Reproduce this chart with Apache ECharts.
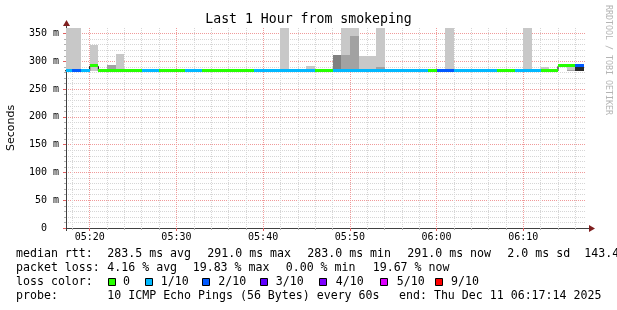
<!DOCTYPE html>
<html><head><meta charset="utf-8">
<script src="https://cdn.jsdelivr.net/npm/echarts@6/dist/echarts.min.js"></script>
<style>html,body{margin:0;padding:0;background:#fff}#c{width:617px;height:310px}</style>
</head><body><div id="c"></div>
<script>
// x values are minutes relative to 05:20:00
const xMin = -2.7333;   // 05:17:16
const xMax = 57.2333;   // 06:17:14
const yMax = 360;       // ms
const xMajor = [0, 10, 20, 30, 40, 50];
const xTickLabels = ['05:20', '05:30', '05:40', '05:50', '06:00', '06:10'];
const xMinor = [-2, 2, 4, 6, 8, 12, 14, 16, 18, 22, 24, 26, 28, 32, 34, 36, 38, 42, 44, 46, 48, 52, 54, 56];
const yMajor = [0, 50, 100, 150, 200, 250, 300, 350];
const yMinor = [10, 20, 30, 40, 60, 70, 80, 90, 110, 120, 130, 140, 160, 170, 180, 190, 210, 220, 230, 240,
                260, 270, 280, 290, 310, 320, 330, 340];

// one slot per minute: slot i covers slotStart[i] .. slotStart[i]+1
const slotStart = [-3, -2, -1, 0, 1, 2, 3, 4, 5, 6,
                   7, 8, 9, 10, 11, 12, 13, 14, 15, 16,
                   17, 18, 19, 20, 21, 22, 23, 24, 25, 26,
                   27, 28, 29, 30, 31, 32, 33, 34, 35, 36,
                   37, 38, 39, 40, 41, 42, 43, 44, 45, 46,
                   47, 48, 49, 50, 51, 52, 53, 54, 55, 56];
// median rtt (ms)
const median = [283, 283, 283, 291, 283, 283, 283, 283, 283, 283,
                283, 283, 283, 283, 283, 283, 283, 283, 283, 283,
                283, 283, 283, 283, 283, 283, 283, 283, 283, 283,
                283, 283, 283, 283, 283, 283, 283, 283, 283, 283,
                283, 283, 283, 283, 283, 283, 283, 283, 283, 283,
                283, 283, 283, 283, 283, 283, 283, 291, 291, 291];
// loss level index (0 = 0/10, 1 = 1/10, 2 = 2/10)
const loss = [1, 2, 1, 0, 0, 0, 0, 0, 0, 1,
              1, 0, 0, 0, 1, 1, 0, 0, 0, 0,
              0, 0, 1, 1, 1, 1, 1, 1, 1, 0,
              0, 1, 1, 1, 1, 1, 1, 1, 1, 1,
              1, 1, 0, 2, 2, 1, 1, 1, 1, 1,
              0, 0, 1, 1, 1, 0, 0, 0, 0, 2];
// smoke bands
const smokeSlot  = [0, 1, 1, 3, 5, 6, 9, 16, 18, 20, 25, 28, 31, 32, 32, 33, 33, 34, 35, 36, 36, 42, 43, 44, 53, 55, 58, 58, 59];
const smokeLo    = [283, 283, 280, 283, 281, 282, 281, 280, 280, 281, 283, 283, 283, 283, 283, 283, 283, 283, 283, 283, 283, 281, 281, 283, 283, 283, 283, 283, 283];
const smokeHi    = [400, 400, 283, 330, 294, 313, 283, 283, 283, 283, 400, 291, 311, 400, 311, 400, 345, 310, 310, 400, 289, 283, 283, 400, 400, 290, 290, 285, 290];
const smokeShade = [0, 0, 2, 0, 1, 0, 0, 2, 2, 0, 0, 0, 2, 0, 1, 0, 1, 0, 0, 0, 1, 0, 0, 0, 0, 0, 0, 1, 3];

const smokeColors = ['#c8c8c8', '#a2a2a2', '#808080', '#2a2a2a'];
const lossColors = ['#26ff00', '#00b8ff', '#0059ff', '#5e00ff', '#7e00ff', '#dd00ff', '#ff0000'];
const lossLabels = ['0', '1/10', '2/10', '3/10', '4/10', '5/10', '9/10'];

const rttStats  = ['283.5 ms avg', '291.0 ms max', '283.0 ms min', '291.0 ms now', '2.0 ms sd', '143.4 am/s'];
const lossStats = ['4.16 % avg', '19.83 % max', '0.00 % min', '19.67 % now'];

const GL = 66, GT = 28, GW = 520, GH = 200;
const MONO = '"DejaVu Sans Mono", monospace';

const smokeData = smokeSlot.map((s, k) => [slotStart[s], slotStart[s] + 1, smokeLo[k], smokeHi[k], smokeShade[k]]);
const segData = slotStart.map((s, i) => [s, s + 1, median[i], loss[i]]);
const stepData = slotStart.map((s, i) => [s, median[i]]);
stepData.push([slotStart[slotStart.length - 1] + 1, median[median.length - 1]]);

function clipTo(params, r) {
  const cs = params.coordSys;
  return echarts.graphic.clipRectByRect(r, {x: cs.x, y: cs.y, width: cs.width, height: cs.height});
}
function renderSmoke(params, api) {
  const p0 = api.coord([api.value(0), api.value(3)]);
  const p1 = api.coord([api.value(1), api.value(2)]);
  const x0 = Math.round(p0[0]), x1 = Math.round(p1[0]);
  const y0 = Math.round(p0[1]), y1 = Math.round(p1[1]);
  const shape = clipTo(params, {x: x0, y: y0, width: x1 - x0, height: y1 - y0});
  return shape && {type: 'rect', shape: shape, style: {fill: smokeColors[api.value(4)]}};
}
function renderSeg(params, api) {
  const p0 = api.coord([api.value(0), api.value(2)]);
  const p1 = api.coord([api.value(1), api.value(2)]);
  const x0 = Math.round(p0[0]), x1 = Math.round(p1[0]);
  const y = Math.round(p0[1]) - 2;
  const shape = clipTo(params, {x: x0, y: y, width: x1 - x0, height: 3});
  return shape && {type: 'rect', shape: shape, style: {fill: lossColors[api.value(3)]}};
}

function txt(text, x, y, font, fill, align, rot) {
  return {type: 'text', x: x, y: y, rotation: rot || 0, silent: true,
    style: {text: text, font: font, fill: fill || '#000',
      textAlign: align || 'left', align: align || 'left',
      textVerticalAlign: 'middle', verticalAlign: 'middle'}};
}

const legendFont = '11.6px ' + MONO;
const graphics = [
  txt('Last 1 Hour from smokeping', 308.5, 20, '13.2px ' + MONO, '#000', 'center'),
  txt('Seconds', 11, 128, '11px "DejaVu Sans", sans-serif', '#000', 'center', Math.PI / 2),
  txt('RRDTOOL / TOBI OETIKER', 608.5, 60, '8.3px ' + MONO, '#b4b4b4', 'center', -Math.PI / 2),
  // axis extensions and arrows
  {type: 'line', silent: true, shape: {x1: GL + GW, y1: GT + GH + 0.5, x2: GL + GW + 4, y2: GT + GH + 0.5}, style: {stroke: '#404040', lineWidth: 1}},
  {type: 'polygon', silent: true, shape: {points: [[GL + GW + 3, GT + GH - 3], [GL + GW + 9, GT + GH + 0.5], [GL + GW + 3, GT + GH + 4]]}, style: {fill: '#7f1f1f'}},
  {type: 'line', silent: true, shape: {x1: GL + 0.5, y1: GT, x2: GL + 0.5, y2: GT - 3}, style: {stroke: '#404040', lineWidth: 1}},
  {type: 'polygon', silent: true, shape: {points: [[GL - 3, GT - 2], [GL + 0.5, GT - 8], [GL + 4, GT - 2]]}, style: {fill: '#7f1f1f'}},
  {type: 'line', silent: true, shape: {x1: GL + 0.5, y1: GT + GH, x2: GL + 0.5, y2: GT + GH + 3}, style: {stroke: '#404040', lineWidth: 1}},
  // legend
  txt('median rtt:', 16, 254.3, legendFont),
  txt('packet loss:', 16, 268.3, legendFont),
  txt('loss color:', 16, 282.3, legendFont),
  txt('probe:', 16, 296.3, legendFont),
  txt('10 ICMP Echo Pings (56 Bytes) every 60s', 107.3, 296.3, legendFont),
  txt('end: Thu Dec 11 06:17:14 2025', 399, 296.3, legendFont)
];
const rttX = [107.3, 207.3, 307.3, 407.3, 507.3, 584.3];
rttStats.forEach((t, i) => graphics.push(txt(t, rttX[i], 254.3, legendFont)));
const lossX = [107.3, 192.7, 285.7, 372.7];
lossStats.forEach((t, i) => graphics.push(txt(t, lossX[i], 268.3, legendFont)));
const boxX = [108.5, 145.5, 202.5, 260.5, 319.5, 380.5, 435.5];
const boxLabelX = [123, 160.7, 218.3, 275.7, 335.7, 396.7, 451];
lossColors.forEach((c, i) => {
  graphics.push({type: 'rect', silent: true, shape: {x: boxX[i], y: 278.5, width: 7, height: 7}, style: {fill: c, stroke: '#000', lineWidth: 1}});
  graphics.push(txt(lossLabels[i], boxLabelX[i], 282.3, legendFont));
});

const chart = echarts.init(document.getElementById('c'), null, {renderer: 'canvas'});
chart.setOption({
  backgroundColor: '#ffffff',
  animation: false,
  grid: {left: GL, top: GT, width: GW, height: GH, containLabel: false, outerBoundsMode: 'none'},
  xAxis: [
    {type: 'value', min: xMin, max: xMax, position: 'bottom',
      axisLine: {show: true, onZero: false, lineStyle: {color: '#404040', width: 1}},
      axisTick: {show: true, customValues: xMajor, length: 3, lineStyle: {color: '#e06060'}},
      axisLabel: {show: true, customValues: xMajor, margin: 4, fontFamily: MONO, fontSize: 10, lineHeight: 10, color: '#000',
        formatter: v => xTickLabels[xMajor.indexOf(Math.round(v))] || ''},
      splitLine: {show: true, lineStyle: {color: '#f09a9a', type: [1, 1], width: 1}}},
    {type: 'value', min: xMin, max: xMax, position: 'bottom',
      axisLine: {show: false, onZero: false},
      axisTick: {show: true, customValues: xMinor, length: 2, lineStyle: {color: '#b0b0b0'}},
      axisLabel: {show: false},
      splitLine: {show: true, lineStyle: {color: '#d6d6d6', type: [1, 1], width: 1}}}
  ],
  yAxis: [
    {type: 'value', min: 0, max: yMax, position: 'left',
      axisLine: {show: true, onZero: false, lineStyle: {color: '#404040', width: 1}},
      axisTick: {show: true, customValues: yMajor, length: 3, lineStyle: {color: '#e06060'}},
      axisLabel: {show: true, customValues: yMajor, margin: 7, fontFamily: MONO, fontSize: 10, color: '#000',
        formatter: v => (v === 0 ? '0  ' : v + ' m')},
      splitLine: {show: true, lineStyle: {color: '#f09a9a', type: [1, 1], width: 1}}},
    {type: 'value', min: 0, max: yMax, position: 'left',
      axisLine: {show: false, onZero: false},
      axisTick: {show: true, customValues: yMinor, length: 2, lineStyle: {color: '#b0b0b0'}},
      axisLabel: {show: false},
      splitLine: {show: true, lineStyle: {color: '#d6d6d6', type: [1, 1], width: 1}}}
  ],
  series: [
    {type: 'custom', name: 'smoke', xAxisIndex: 0, yAxisIndex: 0, z: 2, silent: true,
      renderItem: renderSmoke, encode: {x: [0, 1], y: [2, 3]}, data: smokeData},
    {type: 'line', name: 'median', xAxisIndex: 0, yAxisIndex: 0, z: 3, silent: true,
      step: 'end', symbol: 'none', data: stepData, lineStyle: {color: '#000', width: 1}},
    {type: 'custom', name: 'median loss', xAxisIndex: 0, yAxisIndex: 0, z: 4, silent: true,
      renderItem: renderSeg, encode: {x: [0, 1], y: 2}, data: segData}
  ],
  graphic: graphics
});
</script>
</body></html>
